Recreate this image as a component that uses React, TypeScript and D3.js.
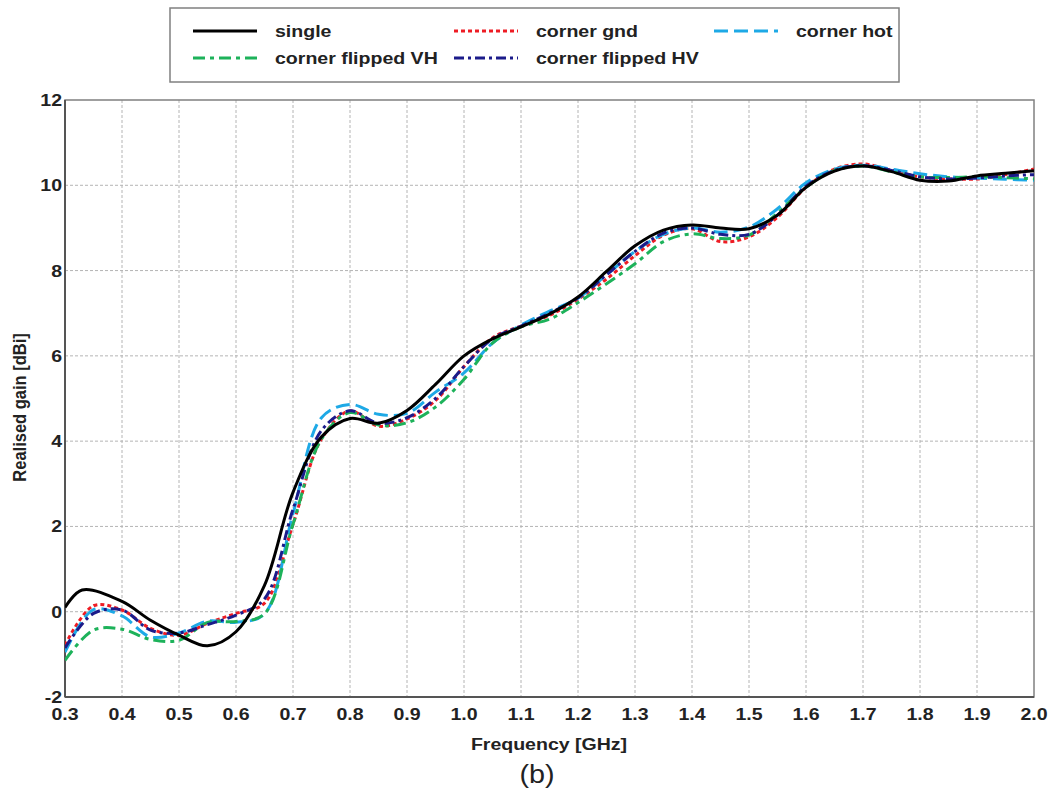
import React from "react";
import * as d3 from "d3";

const freqSingle = [0.3, 0.33, 0.4, 0.45, 0.5, 0.55, 0.6, 0.65, 0.7, 0.75, 0.8, 0.85, 0.9, 0.95, 1.0, 1.05, 1.1, 1.15, 1.2, 1.25, 1.3, 1.35, 1.4, 1.45, 1.5, 1.55, 1.6, 1.65, 1.7, 1.75, 1.8, 1.85, 1.9, 1.95, 2.0];
const freqs = [0.3, 0.35, 0.4, 0.45, 0.5, 0.55, 0.6, 0.65, 0.7, 0.75, 0.8, 0.85, 0.9, 0.95, 1.0, 1.05, 1.1, 1.15, 1.2, 1.25, 1.3, 1.35, 1.4, 1.45, 1.5, 1.55, 1.6, 1.65, 1.7, 1.75, 1.8, 1.85, 1.9, 1.95, 2.0];

const single = [0.1, 0.51, 0.24, -0.2, -0.55, -0.8, -0.47, 0.62, 2.8, 4.1, 4.53, 4.42, 4.72, 5.33, 6.0, 6.4, 6.68, 6.98, 7.38, 7.98, 8.58, 8.95, 9.07, 9.0, 8.98, 9.3, 9.95, 10.33, 10.45, 10.32, 10.12, 10.1, 10.22, 10.28, 10.34];
const cornerGnd = [-0.78, 0.14, 0.04, -0.39, -0.55, -0.27, -0.04, 0.2, 2.05, 4.05, 4.71, 4.35, 4.52, 4.95, 5.75, 6.42, 6.7, 6.95, 7.33, 7.8, 8.35, 8.83, 8.98, 8.68, 8.79, 9.25, 9.95, 10.38, 10.5, 10.35, 10.2, 10.15, 10.15, 10.25, 10.38];
const cornerHot = [-0.95, 0.05, -0.1, -0.59, -0.5, -0.22, -0.25, -0.05, 2.3, 4.55, 4.86, 4.63, 4.65, 5.15, 5.6, 6.3, 6.72, 7.05, 7.35, 7.9, 8.45, 8.85, 9.0, 8.9, 9.02, 9.45, 10.06, 10.38, 10.47, 10.38, 10.27, 10.2, 10.17, 10.14, 10.12];
const flippedVH = [-1.14, -0.43, -0.41, -0.65, -0.67, -0.25, -0.23, -0.05, 2.05, 4.05, 4.67, 4.38, 4.43, 4.8, 5.45, 6.3, 6.68, 6.86, 7.25, 7.69, 8.16, 8.68, 8.86, 8.75, 8.83, 9.35, 9.95, 10.35, 10.45, 10.32, 10.2, 10.18, 10.2, 10.18, 10.15];
const flippedHV = [-0.85, -0.04, 0.04, -0.43, -0.5, -0.3, -0.08, 0.3, 2.4, 4.25, 4.71, 4.42, 4.55, 5.0, 5.75, 6.4, 6.7, 7.0, 7.36, 7.9, 8.45, 8.88, 9.0, 8.85, 8.85, 9.3, 9.98, 10.35, 10.46, 10.35, 10.2, 10.15, 10.17, 10.22, 10.25];

const xTicks = [0.3, 0.4, 0.5, 0.6, 0.7, 0.8, 0.9, 1.0, 1.1, 1.2, 1.3, 1.4, 1.5, 1.6, 1.7, 1.8, 1.9, 2.0];
const yTicks = [-2, 0, 2, 4, 6, 8, 10, 12];

const seriesNames = ["single", "corner gnd", "corner hot", "corner flipped VH", "corner flipped HV"];

type S = { name: string; f: number[]; v: number[]; color: string; dash: string; width: number };

const series: S[] = [
  { name: seriesNames[1], f: freqs, v: cornerGnd, color: "#ee1c24", dash: "4,3", width: 3 },
  { name: seriesNames[2], f: freqs, v: cornerHot, color: "#1ea9e6", dash: "14,6", width: 3 },
  { name: seriesNames[3], f: freqs, v: flippedVH, color: "#1db25a", dash: "12,5,4,5", width: 3 },
  { name: seriesNames[4], f: freqs, v: flippedHV, color: "#1b1b8a", dash: "10,4,3,4", width: 3 },
  { name: seriesNames[0], f: freqSingle, v: single, color: "#000000", dash: "", width: 3 },
];

const legendItems = [
  { s: 4, col: 0, row: 0 },
  { s: 0, col: 1, row: 0 },
  { s: 1, col: 2, row: 0 },
  { s: 2, col: 0, row: 1 },
  { s: 3, col: 1, row: 1 },
];

const SX = 1.15;

function T({ x, y, anchor = "start", size = 17, bold = true, children }: { x: number; y: number; anchor?: string; size?: number; bold?: boolean; children: React.ReactNode }) {
  return (
    <text transform={`translate(${x},${y}) scale(${SX},1)`} textAnchor={anchor} fontSize={size} fontWeight={bold ? "bold" : "normal"} fill="#222">
      {children}
    </text>
  );
}

export default function App() {
  const W = 1055, H = 796;
  const L = 65, R = 1034, Tp = 100, B = 697;
  const x = d3.scaleLinear().domain([0.3, 2.0]).range([L, R]);
  const y = d3.scaleLinear().domain([-2, 12]).range([B, Tp]);
  const font = "'Liberation Sans', Arial, sans-serif";

  const line = (s: S) =>
    d3
      .line<number>()
      .x((_, i) => x(s.f[i]))
      .y((d) => y(d))
      .curve(d3.curveCatmullRom.alpha(0.5))(s.v) || "";

  const colX = [193, 454, 714];
  const rowY = [31, 58];

  return (
    <svg width={W} height={H} style={{ position: "absolute", left: 0, top: 0, background: "#fff" }} fontFamily={font}>
      <defs>
        <clipPath id="plot">
          <rect x={L} y={Tp} width={R - L} height={B - Tp} />
        </clipPath>
      </defs>
      {xTicks.slice(1, -1).map((t) => (
        <line key={"gx" + t} x1={x(t)} x2={x(t)} y1={Tp} y2={B} stroke="#b4b4b4" strokeWidth={1} strokeDasharray="3,2" />
      ))}
      {yTicks.slice(1, -1).map((t) => (
        <line key={"gy" + t} x1={L} x2={R} y1={y(t)} y2={y(t)} stroke="#b4b4b4" strokeWidth={1} strokeDasharray="3,2" />
      ))}
      <rect x={L} y={Tp} width={R - L} height={B - Tp} fill="none" stroke="#808080" strokeWidth={1.5} />
      <line x1={L} x2={L} y1={Tp} y2={B} stroke="#555" strokeWidth={2} />
      <line x1={L} x2={R} y1={B} y2={B} stroke="#555" strokeWidth={2} />
      <g clipPath="url(#plot)">
        {series.map((s) => (
          <path key={s.name} d={line(s)} fill="none" stroke={s.color} strokeWidth={s.width} strokeDasharray={s.dash || undefined} strokeLinejoin="round" />
        ))}
      </g>
      {xTicks.map((t) => (
        <T key={"tx" + t} x={x(t)} y={720} anchor="middle">
          {t.toFixed(1)}
        </T>
      ))}
      {yTicks.map((t) => (
        <T key={"ty" + t} x={62} y={y(t) + 6} anchor="end">
          {t}
        </T>
      ))}
      <T x={549} y={750} anchor="middle">
        Frequency [GHz]
      </T>
      <T x={537} y={783} anchor="middle" size={25} bold={false}>
        (b)
      </T>
      <text transform={`translate(26, ${(Tp + B) / 2 + 9}) rotate(-90) scale(1,${SX})`} textAnchor="middle" fontSize={16.5} fontWeight="bold" fill="#222">
        Realised gain [dBi]
      </text>
      <rect x={170} y={8} width={729} height={74} fill="#fff" stroke="#808080" strokeWidth={1.5} />
      {legendItems.map((it) => {
        const s = series[it.s];
        const lx = colX[it.col];
        const ly = rowY[it.row];
        return (
          <g key={"lg" + s.name}>
            <line x1={lx} x2={lx + 64} y1={ly} y2={ly} stroke={s.color} strokeWidth={3} strokeDasharray={s.dash || undefined} />
            <T x={lx + 82} y={ly + 6}>
              {s.name}
            </T>
          </g>
        );
      })}
    </svg>
  );
}
